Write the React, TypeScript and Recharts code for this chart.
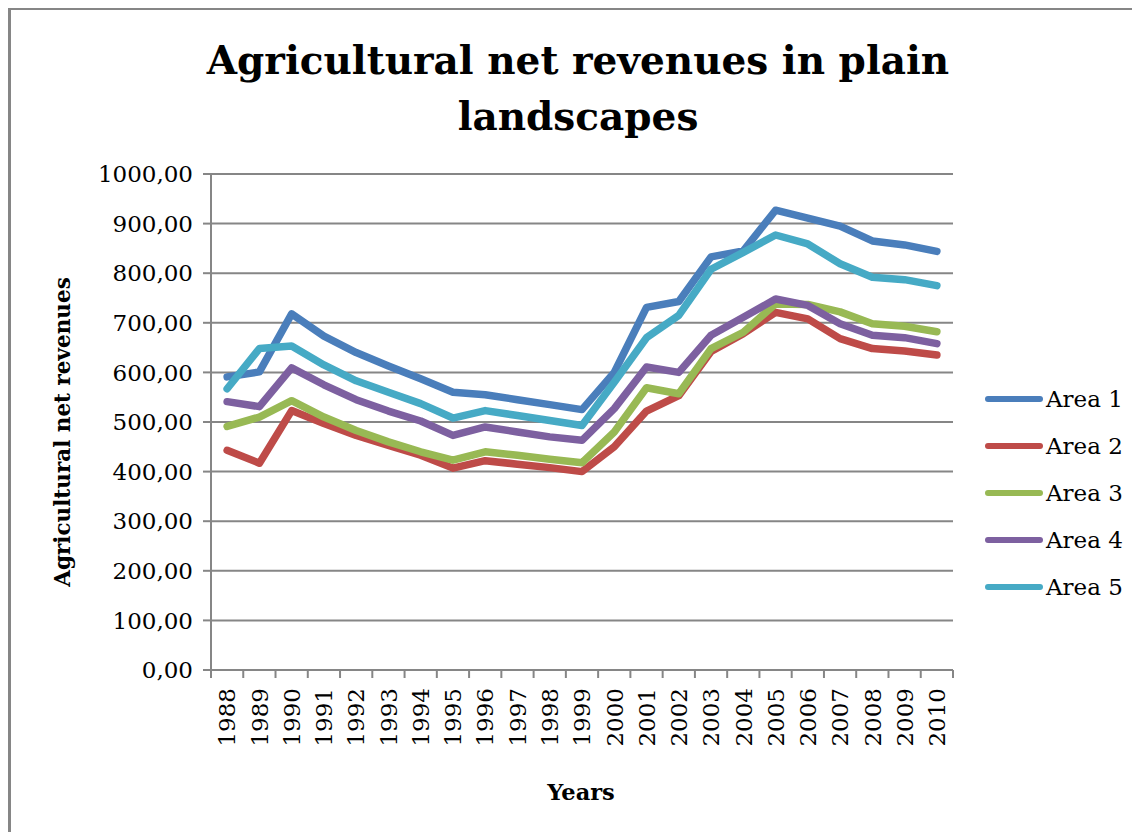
import { LineChart, Line, XAxis, YAxis, CartesianGrid, Legend } from "recharts";

const years = [
  "1988", "1989", "1990", "1991", "1992", "1993", "1994", "1995", "1996", "1997", "1998", "1999",
  "2000", "2001", "2002", "2003", "2004", "2005", "2006", "2007", "2008", "2009", "2010",
];

const area1 = [591, 601, 718, 673, 640, 613, 587, 560, 555, 545, 535, 525, 600, 731, 743, 833, 845, 927, 911, 895, 865, 857, 844];
const area2 = [443, 417, 523, 497, 473, 453, 433, 407, 422, 415, 408, 400, 450, 522, 553, 642, 678, 721, 708, 668, 648, 643, 635];
const area3 = [491, 510, 543, 510, 483, 460, 440, 423, 440, 433, 425, 418, 480, 569, 557, 648, 681, 738, 737, 722, 698, 693, 682];
const area4 = [541, 531, 609, 575, 545, 522, 502, 473, 490, 480, 470, 463, 527, 611, 600, 675, 711, 748, 735, 698, 675, 670, 658];
const area5 = [567, 648, 653, 615, 583, 560, 537, 508, 523, 513, 503, 493, 580, 670, 715, 808, 842, 877, 859, 819, 792, 787, 775];

const yTicks = [0, 100, 200, 300, 400, 500, 600, 700, 800, 900, 1000];

const series = [
  { key: "Area 1", values: area1, color: "#4A7EBB" },
  { key: "Area 2", values: area2, color: "#BE4B48" },
  { key: "Area 3", values: area3, color: "#98B954" },
  { key: "Area 4", values: area4, color: "#7D60A0" },
  { key: "Area 5", values: area5, color: "#46AAC5" },
];

const data = years.map((year, i) => {
  const row: any = { year };
  series.forEach((s) => (row[s.key] = s.values[i]));
  return row;
});

const GRAY = "#868686";
const FONT = "'DejaVu Serif', serif";
const HALF = 742 / 23 / 2;

function YearTick(props: any) {
  const { x, y, payload, index } = props;
  return (
    <g>
      <line x1={x - HALF} y1={y} x2={x - HALF} y2={y + 8} stroke={GRAY} strokeWidth={2} />
      {index === years.length - 1 && (
        <line x1={x + HALF} y1={y} x2={x + HALF} y2={y + 8} stroke={GRAY} strokeWidth={2} />
      )}
      <text
        x={x}
        y={y + 18}
        dy="0.36em"
        textAnchor="end"
        transform={`rotate(-90, ${x}, ${y + 18})`}
        fontFamily={FONT}
        fontSize={23}
        fill="#000"
      >
        {payload.value}
      </text>
    </g>
  );
}

function LegendBox() {
  return (
    <div>
      {series.map((s) => (
        <div key={s.key} style={{ height: 47, display: "flex", alignItems: "center" }}>
          <svg width={60} height={10}>
            <line x1={4} y1={5} x2={56} y2={5} stroke={s.color} strokeWidth={6} strokeLinecap="round" />
          </svg>
          <span style={{ fontFamily: FONT, fontSize: 23, color: "#000", marginLeft: 2 }}>{s.key}</span>
        </div>
      ))}
    </div>
  );
}

export default function App() {
  return (
    <div style={{ position: "relative", width: 1132, height: 824 }}>
      <div
        style={{
          position: "absolute",
          left: 0,
          top: -1,
          width: 1132,
          height: 830,
          borderTop: `3px solid ${GRAY}`,
          borderLeft: `3px solid ${GRAY}`,
          boxSizing: "border-box",
        }}
      />
      <div
        style={{
          position: "absolute",
          left: 120,
          top: 24,
          width: 900,
          textAlign: "center",
          fontFamily: FONT,
          fontWeight: "bold",
          fontSize: 39,
          lineHeight: "56px",
          color: "#000",
        }}
      >
        Agricultural net revenues in plain
        <br />
        landscapes
      </div>
      <div
        style={{
          position: "absolute",
          left: 54,
          top: 424,
          transform: "translate(-50%, -50%) rotate(-90deg)",
          whiteSpace: "nowrap",
          fontFamily: FONT,
          fontWeight: "bold",
          fontSize: 21.5,
          color: "#000",
        }}
      >
        Agricultural net revenues
      </div>
      <div
        style={{
          position: "absolute",
          left: 573,
          top: 784,
          transform: "translate(-50%, -50%)",
          whiteSpace: "nowrap",
          fontFamily: FONT,
          fontWeight: "bold",
          fontSize: 22.5,
          color: "#000",
        }}
      >
        Years
      </div>
      <LineChart
        width={1132}
        height={824}
        data={data}
        margin={{ top: 166, right: 37, bottom: 62, left: 0 }}
        style={{ position: "absolute", left: 0, top: 0 }}
      >
        <CartesianGrid vertical={false} stroke={GRAY} strokeWidth={2} />
        <XAxis
          dataKey="year"
          height={100}
          interval={0}
          padding={{ left: HALF, right: HALF }}
          axisLine={{ stroke: GRAY, strokeWidth: 2 }}
          tickLine={false}
          tickSize={0}
          tickMargin={0}
          tick={<YearTick />}
        />
        <YAxis
          width={203}
          domain={[0, 1000]}
          ticks={yTicks}
          interval={0}
          tickFormatter={(v: number) => v.toFixed(2).replace(".", ",")}
          axisLine={{ stroke: GRAY, strokeWidth: 2 }}
          tickLine={{ stroke: GRAY, strokeWidth: 2 }}
          tickSize={8}
          tickMargin={10}
          tick={{ fontFamily: FONT, fontSize: 23, fill: "#000" }}
        />
        <Legend
          layout="vertical"
          align="right"
          verticalAlign="top"
          width={150}
          wrapperStyle={{ left: 976, top: 367, width: 150 }}
          content={<LegendBox />}
        />
        {series.map((s) => (
          <Line
            key={s.key}
            type="linear"
            dataKey={s.key}
            stroke={s.color}
            strokeWidth={7.5}
            strokeLinejoin="round"
            strokeLinecap="round"
            dot={false}
            activeDot={false}
            isAnimationActive={false}
          />
        ))}
      </LineChart>
    </div>
  );
}
